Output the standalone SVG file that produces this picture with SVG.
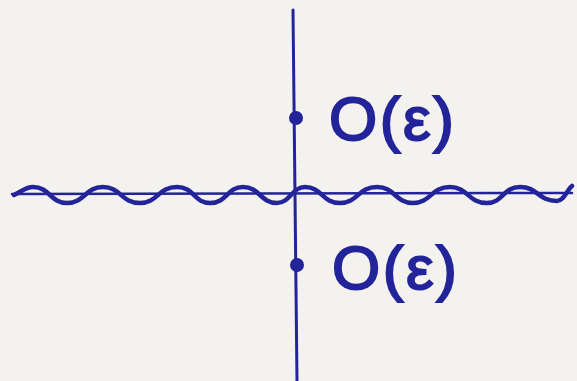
<svg xmlns="http://www.w3.org/2000/svg" width="577" height="381" viewBox="0 0 577 381">
<style>
.ln{fill:none;stroke:#23239a;stroke-linecap:round;stroke-linejoin:round}
.lbl{font-family:"Liberation Sans","DejaVu Sans",sans-serif;font-size:62px;fill:#23239a;stroke:#23239a;stroke-width:2}
</style>
<rect width="577" height="381" fill="#f4f2ee"/>
<g id="connectors">
<path class="ln" stroke-width="3" d="M293,10 L297,381"/>
<path class="ln" stroke-width="2.5" d="M12,194 L572,193"/>
<path class="ln" stroke-width="4.5" d="M14,195 C24,190 26,187 33,187 C50,187 50,203 67,203 C85,203 85,187 103,187 C121,187 121,203 140,203 C158,203 158,187 177,187 C194,187 194,203 210,203 C227,203 227,187 243,187 C260,187 260,203 277,203 C290,203 292,187 305,187 C322,187 322,203 340,203 C358,203 358,187 377,187 C395,187 395,203 413,203 C431,203 431,187 450,187 C468,187 468,203 487,203 C503,203 503,187 520,187 C538,187 538,201 557,201 C564,201 567,190 572,186"/>
</g>
<g id="node-top">
<circle cx="296" cy="118" r="7" fill="#23239a"/>
<text class="lbl" x="329" y="140" textLength="125" lengthAdjust="spacing">O(ε)</text>
</g>
<g id="node-bottom">
<circle cx="297" cy="265" r="7" fill="#23239a"/>
<text class="lbl" x="332" y="289" textLength="125" lengthAdjust="spacing">O(ε)</text>
</g>
</svg>
